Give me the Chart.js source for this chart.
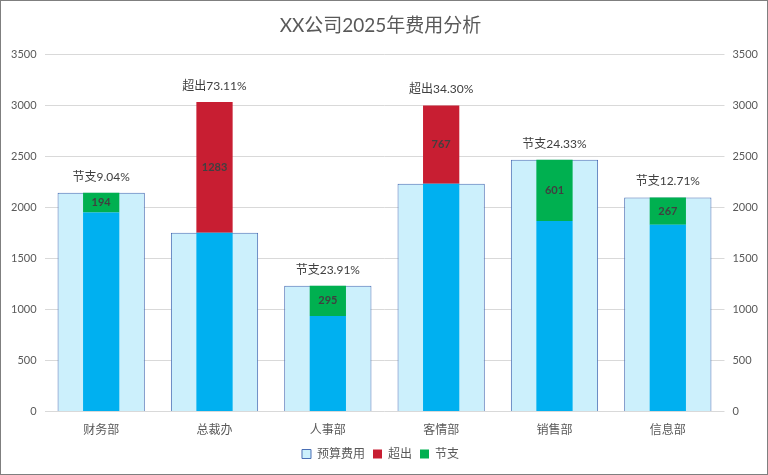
<!DOCTYPE html>
<html>
<head>
<meta charset="utf-8">
<script src="https://cdn.jsdelivr.net/npm/chart.js@4"></script>
<style>
  html, body { margin: 0; padding: 0; background: #fff; }
  #wrap { width: 766px; height: 473px; border: 1px solid #7f7f7f; position: relative; }
</style>
</head>
<body>
<div id="wrap"><canvas id="cost-chart"></canvas></div>
<script>
const departments = ['财务部', '总裁办', '人事部', '客情部', '销售部', '信息部'];
const budgetCost = [2146, 1755, 1234, 2236, 2470, 2101];
const actualCost = [1952, 3038, 939, 3003, 1869, 1834];
const yTicks = [0, 500, 1000, 1500, 2000, 2500, 3000, 3500];

// split actual into the part within budget and the over/under amount
const baseCost = actualCost.map((a, i) => Math.min(a, budgetCost[i]));
const overCost = actualCost.map((a, i) => Math.max(0, a - budgetCost[i]));
const saveCost = actualCost.map((a, i) => Math.max(0, budgetCost[i] - a));

const FONT = 'Lato, "Noto Sans CJK SC", sans-serif';

const labelPlugin = {
    id: 'barLabels',
    afterDatasetsDraw(chart) {
        const ctx = chart.ctx;
        const budgetMeta = chart.getDatasetMeta(0);
        const overMeta = chart.getDatasetMeta(2);
        const saveMeta = chart.getDatasetMeta(3);
        ctx.save();
        ctx.textAlign = 'center';
        ctx.textBaseline = 'middle';
        departments.forEach((d, i) => {
            const seg = overCost[i] > 0 ? overMeta.data[i] : saveMeta.data[i];
            const val = overCost[i] > 0 ? overCost[i] : saveCost[i];
            ctx.font = 'bold 11px ' + FONT;
            ctx.fillStyle = '#404040';
            ctx.fillText(String(val), seg.x, (seg.y + seg.base) / 2);

            const top = Math.min(budgetMeta.data[i].y, seg.y);
            const pct = (val / budgetCost[i] * 100).toFixed(2) + '%';
            const txt = (overCost[i] > 0 ? '超出' : '节支') + pct;
            ctx.font = '12px ' + FONT;
            ctx.fillStyle = '#404040';
            ctx.fillText(txt, seg.x, top - 16);
        });
        ctx.restore();
    }
};

const tickOpts = {
    color: '#595959',
    font: { family: FONT, size: 11 },
    callback: v => String(v)
};

new Chart(document.getElementById('cost-chart'), {
    type: 'bar',
    data: {
        labels: departments,
        datasets: [
            {
                label: '预算费用',
                data: budgetCost,
                backgroundColor: '#CCF0FC',
                borderColor: '#4A6FB5',
                borderWidth: 1,
                stack: 'budget',
                order: 2,
                grouped: false,
                barPercentage: 0.77,
                categoryPercentage: 1
            },
            {
                label: '实际',
                data: baseCost,
                backgroundColor: '#00B0F0',
                stack: 'actual',
                order: 1,
                grouped: false,
                barPercentage: 0.32,
                categoryPercentage: 1
            },
            {
                label: '超出',
                data: overCost,
                backgroundColor: '#C81E32',
                stack: 'actual',
                order: 1,
                grouped: false,
                barPercentage: 0.32,
                categoryPercentage: 1
            },
            {
                label: '节支',
                data: saveCost,
                backgroundColor: '#00B050',
                stack: 'actual',
                order: 1,
                grouped: false,
                barPercentage: 0.32,
                categoryPercentage: 1
            }
        ]
    },
    options: {
        responsive: true,
        maintainAspectRatio: false,
        animation: false,
        layout: { padding: { left: 2, right: 9, top: 8, bottom: 4 } },
        plugins: {
            title: {
                display: true,
                text: 'XX公司2025年费用分析',
                color: '#595959',
                font: { family: FONT, size: 19, weight: 'normal' },
                padding: { top: 5, bottom: 18 }
            },
            legend: {
                position: 'bottom',
                labels: {
                    color: '#595959',
                    font: { family: FONT, size: 12 },
                    boxWidth: 9,
                    boxHeight: 9,
                    padding: 8,
                    filter: item => item.text !== '实际',
                    sort: (a, b) => a.datasetIndex - b.datasetIndex
                }
            },
            tooltip: { enabled: false }
        },
        scales: {
            x: {
                stacked: true,
                grid: { display: false },
                border: { display: false },
                ticks: { color: '#595959', font: { family: FONT, size: 12 } }
            },
            y: {
                stacked: true,
                min: 0,
                max: 3500,
                afterBuildTicks: axis => { axis.ticks = yTicks.map(v => ({ value: v })); },
                grid: { color: '#D9D9D9', drawTicks: false },
                border: { display: false },
                ticks: Object.assign({ padding: 8 }, tickOpts)
            },
            y2: {
                position: 'right',
                min: 0,
                max: 3500,
                afterBuildTicks: axis => { axis.ticks = yTicks.map(v => ({ value: v })); },
                grid: { display: false },
                border: { display: false },
                ticks: Object.assign({ padding: 0 }, tickOpts)
            }
        }
    },
    plugins: [labelPlugin]
});
</script>
</body>
</html>
